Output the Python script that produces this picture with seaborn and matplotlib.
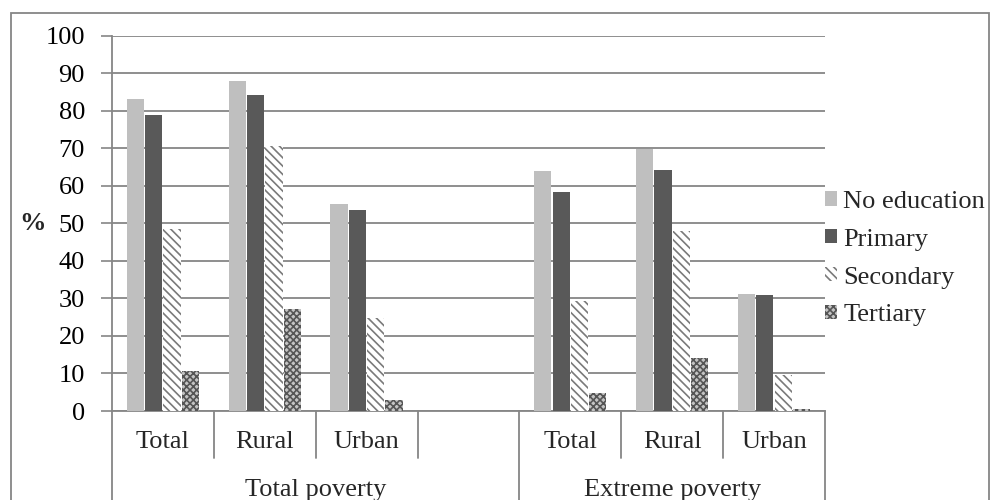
import pandas as pd
import matplotlib.pyplot as plt
import seaborn as sns
from matplotlib.patches import Rectangle

sns.set_theme(style="white")
plt.rcParams['font.family'] = ['Liberation Serif', 'DejaVu Serif']
plt.rcParams['hatch.linewidth'] = 1.2

# Datos
groups = ['Total poverty', 'Extreme poverty']
areas = ['Total', 'Rural', 'Urban']
levels = ['No education', 'Primary', 'Secondary', 'Tertiary']

no_education = [83.2, 88.0, 55.2, 63.9, 69.8, 31.2]
primary = [79.0, 84.3, 53.5, 58.3, 64.3, 30.8]
secondary = [48.5, 70.5, 24.8, 29.4, 48.0, 9.6]
tertiary = [10.6, 27.3, 2.9, 4.8, 14.0, 0.5]

yticks = list(range(0, 101, 10))

# tabla larga; hay una columna vacia entre los dos grupos
slots = [f'{g}|{a}' for g in groups for a in areas]
order = slots[:3] + ['gap'] + slots[3:]
rows = []
for lvl, vals in zip(levels, [no_education, primary, secondary, tertiary]):
    for s, v in zip(slots, vals):
        rows.append({'slot': s, 'level': lvl, 'value': v})
df = pd.DataFrame(rows)

FS = 19

fig = plt.figure(figsize=(9.9, 5), dpi=100)
ax = fig.add_axes([0.1131, 0.178, 0.7202, 0.7504])

palette = {'No education': '#bfbfbf', 'Primary': '#595959',
           'Secondary': '#ffffff', 'Tertiary': '#c4c4c4'}
sns.barplot(data=df, x='slot', y='value', hue='level', order=order,
            hue_order=levels, palette=palette, saturation=1,
            width=0.72, gap=0.06, ax=ax, legend=False, zorder=3)

styles = {
    'No education': dict(hatch=None, edgecolor='#bfbfbf'),
    'Primary': dict(hatch=None, edgecolor='#595959'),
    'Secondary': dict(hatch='\\\\\\\\', edgecolor='#7a7a7a'),
    'Tertiary': dict(hatch='xxxxx', edgecolor='#555555'),
}
for lvl, cont in zip(levels, ax.containers):
    for bar in cont:
        bar.set_hatch(styles[lvl]['hatch'])
        bar.set_edgecolor(styles[lvl]['edgecolor'])
        bar.set_linewidth(0)

ax.set_xlim(-0.5, len(order) - 0.5)
ax.set_ylim(0, 100)
ax.set_yticks(yticks)
ax.set_yticklabels([str(t) for t in yticks], fontsize=FS, color='black')
ax.yaxis.grid(True, color='#868686', linewidth=1.3, zorder=0)
ax.set_axisbelow(True)
ax.tick_params(axis='y', direction='out', length=8, width=1.2, color='#868686', pad=11.5, left=True)
ax.set_xticks([])
ax.set_xlabel('')
ax.set_ylabel('%', fontsize=FS, fontweight='bold', rotation=0, va='center', ha='center')
ax.yaxis.set_label_coords(-0.112, 0.5)
for side in ['top', 'right']:
    ax.spines[side].set_visible(False)
for side in ['left', 'bottom']:
    ax.spines[side].set_color('#868686')
    ax.spines[side].set_linewidth(1.3)

# eje x de dos niveles
trans = ax.get_xaxis_transform()
for i, s in enumerate(order):
    if s != 'gap':
        ax.text(i, -0.083, s.split('|')[1], transform=trans, ha='center', va='center', fontsize=FS)
for i in range(len(order) + 1):
    x = i - 0.5
    long_line = order[i - 1:i] == ['gap'] or i in (0, len(order))
    y_end = -0.24 if long_line else -0.125
    ax.plot([x, x], [0, y_end], transform=trans, color='#868686', lw=1.3, clip_on=False)
ax.text(1.5, -0.21, groups[0], transform=trans, ha='center', va='center', fontsize=FS)
ax.text(5.0, -0.21, groups[1], transform=trans, ha='center', va='center', fontsize=FS)

# leyenda
handles = [c.patches[0] for c in ax.containers]
leg = ax.legend(handles, levels, loc='center left', bbox_to_anchor=(0.8333, 0.4826),
                bbox_transform=fig.transFigure, frameon=False, fontsize=FS,
                handlelength=0.45, handleheight=0.45, handletextpad=0.25,
                labelspacing=0.6, borderaxespad=0, borderpad=0)

# marco exterior
fig.patches.append(Rectangle((0.011, -0.01), 0.988, 0.984, transform=fig.transFigure,
                             fill=False, edgecolor='#868686', lw=1.3))

fig.savefig('out.png', dpi=100)
